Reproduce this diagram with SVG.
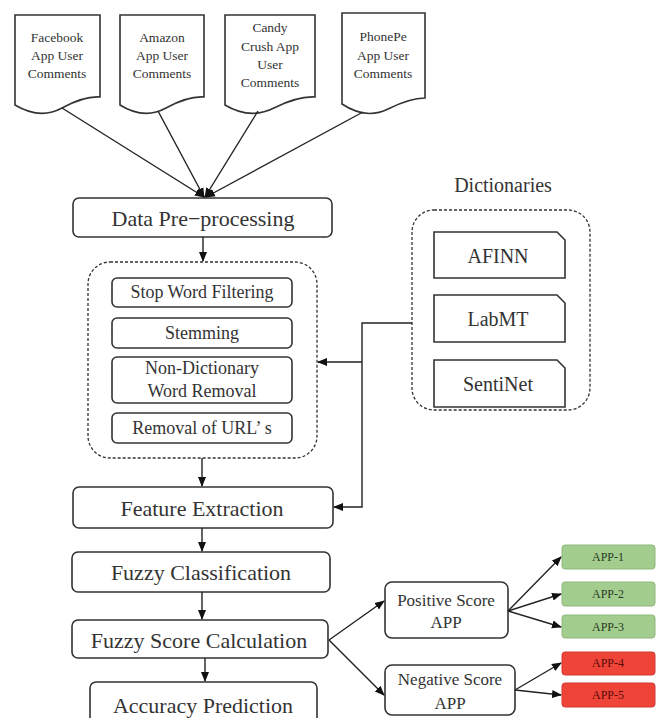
<svg xmlns="http://www.w3.org/2000/svg" width="662" height="718" viewBox="0 0 662 718">
<style>
text{font-family:"Liberation Serif","DejaVu Serif",serif;fill:#333;text-anchor:middle;dominant-baseline:central}
.doc{fill:#fff;stroke:#333;stroke-width:1.6}
.box{fill:#fff;stroke:#333;stroke-width:1.6}
.grp{fill:none;stroke:#333;stroke-width:1.3;stroke-dasharray:3 2}
.c{fill:none;stroke:#222;stroke-width:1.4}
.dt{font-size:13.5px}
.bt{font-size:22px}
.it{font-size:18px}
.dc{font-size:20px}
.ps{font-size:17px}
.g{fill:#a3cc8f;stroke:#8fb77c;stroke-width:1}
.r{fill:#ef4438;stroke:#d33a30;stroke-width:1}
.at{font-size:12px;fill:#2a3a20}
.rt{font-size:12px;fill:#5a0d08}
</style>
<defs>
<marker id="ah" markerUnits="userSpaceOnUse" markerWidth="10" markerHeight="10" viewBox="0 0 10 10" refX="9" refY="5" orient="auto"><path d="M0,1 L10,5 L0,9 Z" fill="#111"/></marker>
</defs>

<g id="doc-facebook">
<path class="doc" d="M15,15 H100 V97 Q84,96 62,108 T15,105 Z"/>
<text class="dt" x="57" y="37">Facebook</text>
<text class="dt" x="57" y="55">App User</text>
<text class="dt" x="57" y="73">Comments</text>
</g>
<g id="doc-amazon">
<path class="doc" d="M120,15 H204 V97 Q188,96 166,108 T120,105 Z"/>
<text class="dt" x="162" y="37">Amazon</text>
<text class="dt" x="162" y="55">App User</text>
<text class="dt" x="162" y="73">Comments</text>
</g>
<g id="doc-candy">
<path class="doc" d="M225,15 H315 V97 Q298,96 274,108 T225,105 Z"/>
<text class="dt" x="270" y="27">Candy</text>
<text class="dt" x="270" y="46">Crush App</text>
<text class="dt" x="270" y="64">User</text>
<text class="dt" x="270" y="82">Comments</text>
</g>
<g id="doc-phonepe">
<path class="doc" d="M342,13 H425 V98 Q410,98 388,109 T342,104 Z"/>
<text class="dt" x="383" y="36">PhonePe</text>
<text class="dt" x="383" y="55">App User</text>
<text class="dt" x="383" y="73">Comments</text>
</g>

<g id="data-preprocessing">
<rect class="box" x="73" y="198" width="259" height="39" rx="6"/>
<text class="bt" x="203" y="218">Data Pre−processing</text>
</g>

<g id="preprocessing-group">
<rect class="grp" x="88" y="262" width="229" height="196" rx="22"/>
<g id="stop-word">
<rect class="box" x="112" y="278" width="180" height="29" rx="5"/>
<text class="it" x="202" y="292">Stop Word Filtering</text>
</g>
<g id="stemming">
<rect class="box" x="112" y="318" width="180" height="30" rx="5"/>
<text class="it" x="202" y="333">Stemming</text>
</g>
<g id="non-dictionary">
<rect class="box" x="112" y="357" width="180" height="46" rx="5"/>
<text class="it" x="202" y="368">Non-Dictionary</text>
<text class="it" x="202" y="391">Word Removal</text>
</g>
<g id="removal-url">
<rect class="box" x="112" y="413" width="180" height="30" rx="5"/>
<text class="it" x="202" y="428">Removal of URL’ s</text>
</g>
</g>

<g id="dictionaries">
<text class="dc" x="503" y="185" fill="#222">Dictionaries</text>
<rect class="grp" x="412" y="210" width="178" height="200" rx="22"/>
<g id="afinn">
<path class="box" d="M434,232 H557 L565,240 V278 H434 Z"/>
<text class="dc" x="498" y="256">AFINN</text>
</g>
<g id="labmt">
<path class="box" d="M434,295 H557 L565,303 V342 H434 Z"/>
<text class="dc" x="498" y="319">LabMT</text>
</g>
<g id="sentinet">
<path class="box" d="M434,360 H557 L565,368 V407 H434 Z"/>
<text class="dc" x="498" y="384">SentiNet</text>
</g>
</g>

<g id="feature-extraction">
<rect class="box" x="73" y="487" width="260" height="41" rx="6"/>
<text class="bt" x="202" y="508">Feature Extraction</text>
</g>
<g id="fuzzy-classification">
<rect class="box" x="72" y="552" width="258" height="40" rx="6"/>
<text class="bt" x="201" y="572">Fuzzy Classification</text>
</g>
<g id="fuzzy-score">
<rect class="box" x="72" y="620" width="256" height="38" rx="6"/>
<text class="bt" x="199" y="640">Fuzzy Score Calculation</text>
</g>
<g id="accuracy-prediction">
<rect class="box" x="90" y="682" width="227" height="44" rx="6"/>
<text class="bt" x="203" y="705">Accuracy Prediction</text>
</g>

<g id="positive-score">
<rect class="box" x="385" y="582" width="123" height="56" rx="7"/>
<text class="ps" x="446" y="600">Positive Score</text>
<text class="ps" x="446" y="622">APP</text>
</g>
<g id="negative-score">
<rect class="box" x="385" y="665" width="130" height="50" rx="7"/>
<text class="ps" x="450" y="679">Negative Score</text>
<text class="ps" x="450" y="703">APP</text>
</g>

<g id="app-1"><rect class="g" x="562" y="545" width="93" height="24" rx="3"/><text class="at" x="608" y="557">APP-1</text></g>
<g id="app-2"><rect class="g" x="562" y="582" width="93" height="24" rx="3"/><text class="at" x="608" y="594">APP-2</text></g>
<g id="app-3"><rect class="g" x="562" y="615" width="93" height="23" rx="3"/><text class="at" x="608" y="627">APP-3</text></g>
<g id="app-4"><rect class="r" x="562" y="652" width="93" height="23" rx="3"/><text class="rt" x="608" y="663">APP-4</text></g>
<g id="app-5"><rect class="r" x="562" y="683" width="93" height="24" rx="3"/><text class="rt" x="608" y="695">APP-5</text></g>

<g id="connectors">
<path class="c" d="M62,108 L204,197" marker-end="url(#ah)"/>
<path class="c" d="M158,111 L204,197" marker-end="url(#ah)"/>
<path class="c" d="M258,111 L205,197" marker-end="url(#ah)"/>
<path class="c" d="M363,112 L206,197" marker-end="url(#ah)"/>
<path class="c" d="M203,237 V261" marker-end="url(#ah)"/>
<path class="c" d="M202,458 V486" marker-end="url(#ah)"/>
<path class="c" d="M202,528 V551" marker-end="url(#ah)"/>
<path class="c" d="M202,592 V619" marker-end="url(#ah)"/>
<path class="c" d="M205,658 V681" marker-end="url(#ah)"/>
<path class="c" d="M412,323 H362 V507 H334" marker-end="url(#ah)"/>
<path class="c" d="M362,362 H318" marker-end="url(#ah)"/>
<path class="c" d="M329,640 L384,601" marker-end="url(#ah)"/>
<path class="c" d="M329,640 L384,695" marker-end="url(#ah)"/>
<path class="c" d="M508,611 L561,557" marker-end="url(#ah)"/>
<path class="c" d="M508,611 L561,594" marker-end="url(#ah)"/>
<path class="c" d="M508,611 L561,627" marker-end="url(#ah)"/>
<path class="c" d="M515,690 L561,663" marker-end="url(#ah)"/>
<path class="c" d="M515,690 L561,695" marker-end="url(#ah)"/>
</g>
</svg>
